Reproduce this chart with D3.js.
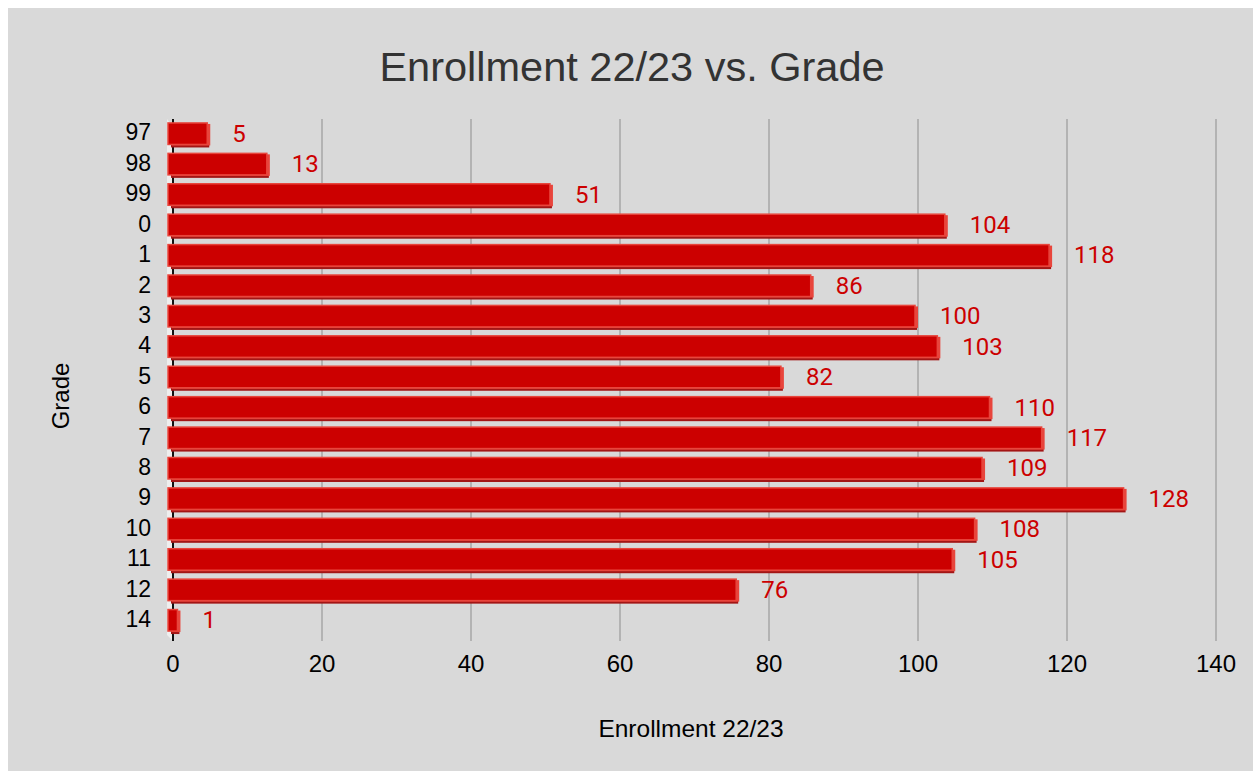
<!DOCTYPE html>
<html><head><meta charset="utf-8">
<script src="https://cdn.jsdelivr.net/npm/d3@7"></script>
<style>
html,body{margin:0;padding:0;background:#fff;}
svg{display:block;font-family:"Liberation Sans", Arial, Helvetica, sans-serif;}
</style></head>
<body><svg id="c" width="1253" height="771"></svg>
<script>
const grades = ["97","98","99","0","1","2","3","4","5","6","7","8","9","10","11","12","14"];
const enrollment = [5,13,51,104,118,86,100,103,82,110,117,109,128,108,105,76,1];
const xTicks = [0,20,40,60,80,100,120,140];
const title = "Enrollment 22/23 vs. Grade";
const xTitle = "Enrollment 22/23";
const yTitle = "Grade";

(function(){
const svg = d3.select("#c");
svg.append("rect").attr("x",8).attr("y",8).attr("width",1245).attr("height",763).attr("fill","#d9d9d9");

const x = d3.scaleLinear().domain([0,140]).range([173,1216]);
const y = d3.scaleBand().domain(grades).range([119,636]).paddingInner(0.26).paddingOuter(0.13);
const plotTop = 119, plotBottom = 641;

const g = svg.append("g");
g.selectAll("line.grid").data(xTicks.filter(d=>d>0)).join("line")
  .attr("x1",d=>x(d)).attr("x2",d=>x(d)).attr("y1",plotTop).attr("y2",plotBottom)
  .attr("stroke","#b3b3b3").attr("stroke-width",2);

svg.append("path").attr("d",`M${x(0)-6},${plotTop} L${x(0)},${plotTop+8} L${x(0)},${plotBottom} L${x(0)-6},${plotBottom-6} Z`).attr("fill","#eeeeee");

svg.append("line").attr("x1",x(0)).attr("x2",x(0)).attr("y1",plotTop).attr("y2",plotBottom).attr("stroke","#111").attr("stroke-width",2);

const bars = svg.append("g").selectAll("g").data(grades.map((gname,i)=>({g:gname,v:enrollment[i]}))).join("g");
const bh = y.bandwidth();
bars.append("rect")
  .attr("x",x(0)-2).attr("y",d=>y(d.g)+2)
  .attr("width",d=>Math.max(3,x(d.v)-x(0)+1)).attr("height",bh)
  .attr("fill","#a31515");
bars.append("rect")
  .attr("x",x(0)-1).attr("y",d=>y(d.g)+1)
  .attr("width",d=>Math.max(3,x(d.v)-x(0)+1)).attr("height",bh-1)
  .attr("fill","#e8453c");
bars.append("rect")
  .attr("x",x(0)-5).attr("y",d=>y(d.g))
  .attr("width",d=>Math.max(3,x(d.v)-x(0)+2)).attr("height",bh-1)
  .attr("fill","#cc0000").attr("stroke","#e8453c").attr("stroke-width",1.5);

bars.append("text").attr("x",d=>x(d.v)+22).attr("y",d=>y(d.g)+bh/2-1).attr("dy","0.36em")
  .attr("fill","#cc0000").attr("font-size",24).style("font-family","Roboto, 'Liberation Sans', sans-serif").text(d=>d.v);

svg.append("g").selectAll("text").data(grades).join("text")
  .attr("x",151).attr("y",d=>y(d)+bh/2-2).attr("dy","0.36em").attr("text-anchor","end")
  .attr("font-size",23).attr("fill","#000").text(d=>d);

svg.append("g").selectAll("text").data(xTicks).join("text")
  .attr("x",d=>x(d)).attr("y",663).attr("dy","0.36em").attr("text-anchor","middle")
  .attr("font-size",24).attr("fill","#000").text(d=>d);

svg.append("text").attr("x",632).attr("y",66).attr("dy","0.36em").attr("text-anchor","middle")
  .attr("font-size",41.5).attr("fill","#333").text(title);
svg.append("text").attr("x",691).attr("y",728).attr("dy","0.36em").attr("text-anchor","middle")
  .attr("font-size",24.5).attr("fill","#000").text(xTitle);
svg.append("text").attr("transform","translate(60,396) rotate(-90)").attr("dy","0.36em").attr("text-anchor","middle")
  .attr("font-size",24).attr("fill","#000").text(yTitle);
})();
</script></body></html>
